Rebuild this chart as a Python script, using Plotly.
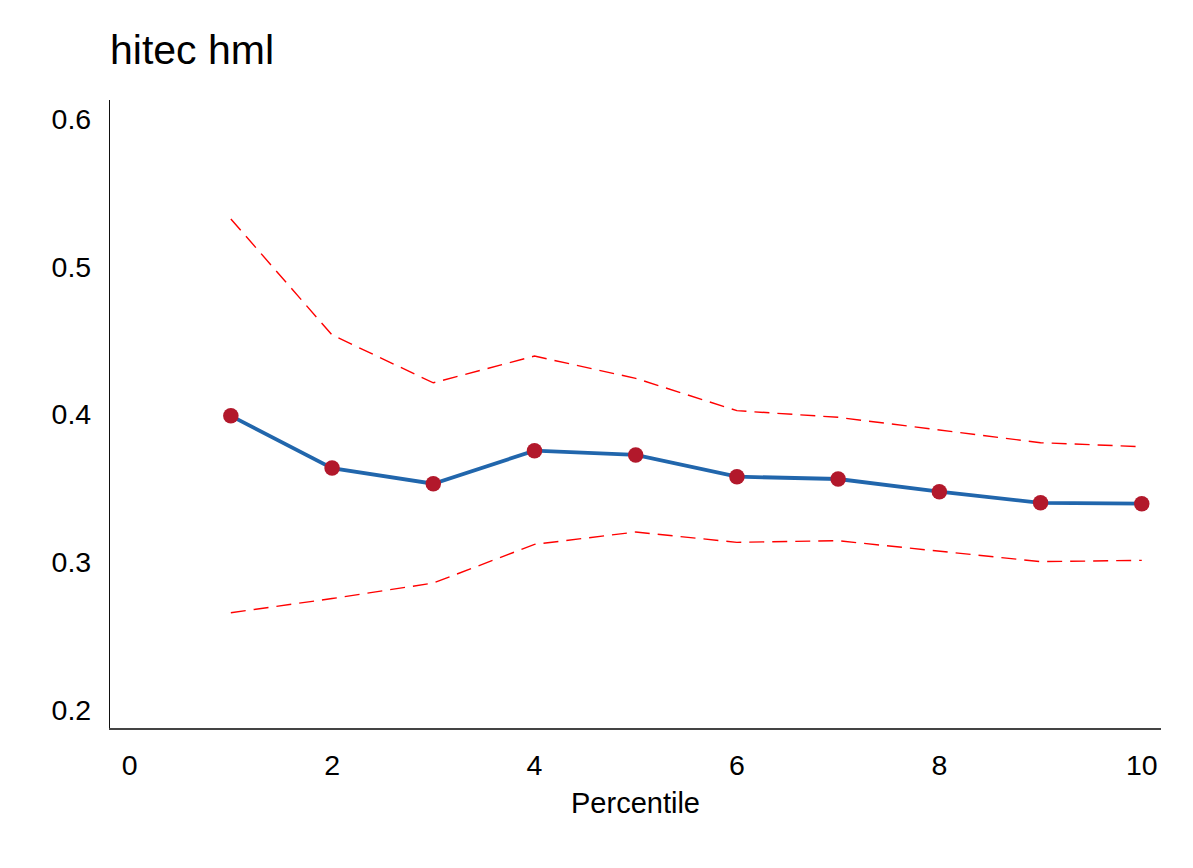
import plotly.graph_objects as go

percentile = [1, 2, 3, 4, 5, 6, 7, 8, 9, 10]
estimate = [0.399, 0.3636, 0.353, 0.3754, 0.3725, 0.3578, 0.3562, 0.3476, 0.3401, 0.3395]
upper = [0.5324, 0.4538, 0.4214, 0.4395, 0.4244, 0.4025, 0.398, 0.3892, 0.3808, 0.3781]
lower = [0.2656, 0.2752, 0.2857, 0.3119, 0.3203, 0.3133, 0.3144, 0.3072, 0.3002, 0.3011]

x_ticks = [0, 2, 4, 6, 8, 10]
y_ticks = [0.2, 0.3, 0.4, 0.5, 0.6]

FONT = "Liberation Sans, Arial, sans-serif"

fig = go.Figure()
fig.add_trace(go.Scatter(x=percentile, y=upper, mode="lines",
                         line=dict(color="#ff0000", width=1.4, dash="15px,8px"),
                         showlegend=False, hoverinfo="skip"))
fig.add_trace(go.Scatter(x=percentile, y=lower, mode="lines",
                         line=dict(color="#ff0000", width=1.4, dash="15px,8px"),
                         showlegend=False, hoverinfo="skip"))
fig.add_trace(go.Scatter(x=percentile, y=estimate, mode="lines+markers",
                         line=dict(color="#2166ac", width=3.8),
                         marker=dict(color="#b2182b", size=15.5),
                         showlegend=False))

fig.update_layout(
    width=1193, height=868,
    margin=dict(l=102, r=40, t=92, b=148),
    paper_bgcolor="white", plot_bgcolor="white",
    font=dict(family=FONT, color="black", size=28.5),
    title=dict(text="hitec hml", x=0, xref="paper", xanchor="left",
               y=1 - 42 / 868, yref="container", yanchor="middle",
               font=dict(size=41, family=FONT, color="black")),
    xaxis=dict(range=[-0.194, 10.19], tickvals=x_ticks,
               ticktext=[str(v) for v in x_ticks],
               showgrid=False, zeroline=False,
               showline=True, linecolor="#444", linewidth=1.5,
               ticks="outside", ticklen=11, tickcolor="rgba(0,0,0,0)",
               tickfont=dict(size=28.5),
               title=dict(text="Percentile", font=dict(size=29), standoff=13)),
    yaxis=dict(range=[0.1875, 0.613], tickvals=y_ticks,
               ticktext=[f"{v:.1f}" for v in y_ticks],
               showgrid=False, zeroline=False,
               showline=True, linecolor="#111", linewidth=1.2,
               ticks="outside", ticklen=12, tickcolor="rgba(0,0,0,0)",
               tickfont=dict(size=28.5)),
)

fig.write_html("out.html")
